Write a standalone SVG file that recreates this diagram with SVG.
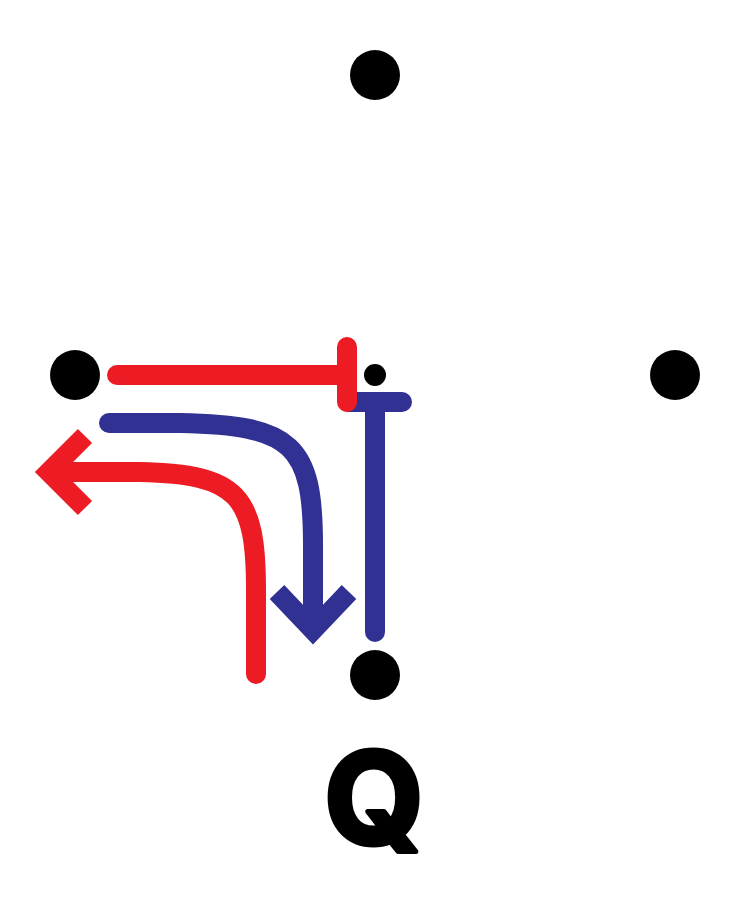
<svg xmlns="http://www.w3.org/2000/svg" width="750" height="900" viewBox="0 0 750 900">
<style>
.dot{fill:#000}
.red{stroke:#ed1c24;stroke-width:20;fill:none}
.blue{stroke:#303192;stroke-width:20;fill:none}
.rc{stroke-linecap:round}
.lbl{font-family:Inter,"Liberation Sans",Arial,sans-serif;font-weight:bold;font-size:128px;fill:#000;stroke:#000;stroke-width:5;stroke-linejoin:round}
</style>
<rect width="750" height="900" fill="#fff"/>
<g id="node-top"><circle class="dot" cx="375" cy="75" r="25"/></g>
<g id="node-left"><circle class="dot" cx="75" cy="375" r="25"/></g>
<g id="node-right"><circle class="dot" cx="675" cy="375" r="25"/></g>
<g id="node-bottom"><circle class="dot" cx="375" cy="675" r="25"/></g>
<g id="node-center"><circle class="dot" cx="375" cy="375" r="11"/></g>
<g id="connectors">
<path class="blue rc" d="M348,402 H402 M375,402 V632"/>
<path class="red rc" d="M117,375 H347 M347,347 V402"/>
<path class="blue rc" d="M109,423 L180,423 C293,425 313,445 313,545 L313,626"/>
<path class="blue" stroke-linejoin="miter" d="M277,592 L313,630 L349,592"/>
<path class="red rc" d="M53,472 L140,472 C238,474 256,495 256,590 L256,674"/>
<path class="red" stroke-linejoin="miter" d="M85,436 L49,472 L85,508"/>
</g>
<g id="label-q"><text class="lbl" x="374" y="844" text-anchor="middle">Q</text></g>
</svg>
